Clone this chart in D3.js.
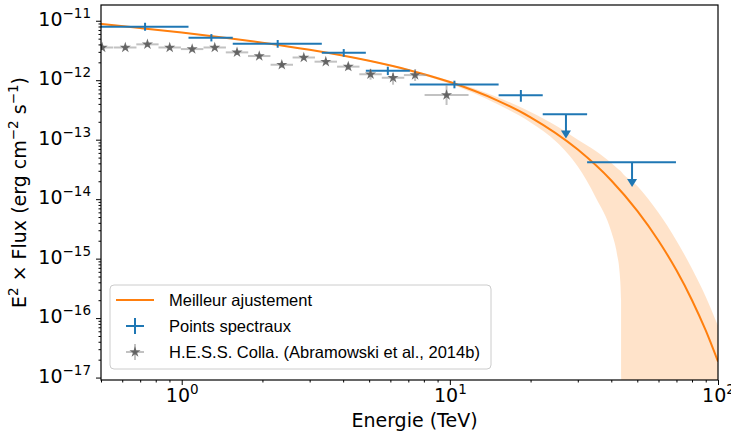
<!DOCTYPE html>
<html>
<head>
<meta charset="utf-8">
<script src="https://cdn.jsdelivr.net/npm/d3@7/dist/d3.min.js"></script>
<style>
  body { margin: 0; background: #fff; }
  text { fill: #000; }
</style>
</head>
<body>
<svg id="chart" width="731" height="432"></svg>
<script>
// ----------------------------------------
//  Data
// ----------------------------------------

// best fit curve
var fitE = [0.5, 0.7, 1, 1.5, 2, 3, 5, 7, 10, 15, 20, 30, 40, 50, 60, 70, 80, 90, 100];
var fitF = [8.87e-12, 7.55e-12, 6.32e-12, 5.07e-12, 4.28e-12, 3.25e-12, 2.12e-12, 1.49e-12,
            9.31e-13, 4.59e-13, 2.38e-13, 6.82e-14, 2.06e-14, 6.35e-15, 2.0e-15, 6.35e-16,
            2.0e-16, 6.2e-17, 1.86e-17];

// error band of the fit
var bandE  = [0.5, 1, 2, 5, 7, 10, 15, 20, 25, 30, 35, 40, 42, 43, 43.5, 43.6, 50, 60, 70, 80, 90, 100];
var bandLo = [8.71e-12, 6.21e-12, 4.20e-12, 2.07e-12, 1.43e-12, 8.71e-13, 3.98e-13, 1.95e-13,
              9.12e-14, 3.55e-14, 1.07e-14, 2.82e-15, 1.20e-15, 5.62e-16, 2.0e-16, 1e-30,
              1e-30, 1e-30, 1e-30, 1e-30, 1e-30, 1e-30];
var bandHi = [9.04e-12, 6.44e-12, 4.36e-12, 2.18e-12, 1.54e-12, 9.77e-13, 5.21e-13, 2.92e-13,
              1.70e-13, 1.00e-13, 6.46e-14, 4.07e-14, 3.34e-14, 3.05e-14, 2.92e-14, 2.88e-14,
              1.66e-14, 5.89e-15, 2.0e-15, 6.76e-16, 2.29e-16, 7.4e-17];

// spectral points
var ptE   = [0.73, 1.29, 2.28, 4.02, 5.87, 10.4, 18.4];
var ptElo = [0.5, 1.06, 1.55, 3.33, 4.86, 7.09, 15.2];
var ptEhi = [1.06, 1.55, 3.33, 4.86, 7.09, 15.2, 22.2];
var ptF   = [7.93e-12, 5.18e-12, 4.10e-12, 2.89e-12, 1.44e-12, 8.47e-13, 5.57e-13];
var ptFlo = [6.79e-12, 4.49e-12, 3.52e-12, 2.48e-12, 1.22e-12, 7.31e-13, 4.35e-13];
var ptFhi = [9.25e-12, 5.97e-12, 4.74e-12, 3.34e-12, 1.69e-12, 9.82e-13, 6.84e-13];

// upper limits
var ulE   = [27.1, 47.8];
var ulElo = [22.2, 32.5];
var ulEhi = [32.5, 69.7];
var ulF   = [2.67e-13, 4.17e-14];
var ulTo  = [1.05e-13, 1.60e-14];

// H.E.S.S. points
var hessE   = [0.505, 0.616, 0.745, 0.902, 1.094, 1.328, 1.608, 1.946, 2.362, 2.853, 3.446, 4.18, 5.06, 6.14, 7.42, 9.72];
var hessElo = [0.459, 0.559, 0.677, 0.819, 0.993, 1.206, 1.460, 1.767, 2.145, 2.591, 3.129, 3.796, 4.595, 5.575, 6.738, 8.05];
var hessEhi = [0.556, 0.678, 0.820, 0.993, 1.204, 1.462, 1.770, 2.142, 2.600, 3.141, 3.794, 4.602, 5.571, 6.760, 8.169, 11.74];
var hessF   = [3.55e-12, 3.55e-12, 4.01e-12, 3.55e-12, 3.34e-12, 3.55e-12, 2.94e-12, 2.55e-12,
               1.82e-12, 2.41e-12, 2.05e-12, 1.69e-12, 1.26e-12, 1.10e-12, 1.22e-12, 5.64e-13];
var hessFlo = [3.22e-12, 3.22e-12, 3.64e-12, 3.22e-12, 3.03e-12, 3.22e-12, 2.67e-12, 2.32e-12,
               1.62e-12, 2.19e-12, 1.86e-12, 1.49e-12, 1.02e-12, 0.84e-12, 0.97e-12, 3.83e-13];
var hessFhi = [3.91e-12, 3.91e-12, 4.42e-12, 3.91e-12, 3.68e-12, 3.91e-12, 3.24e-12, 2.81e-12,
               2.04e-12, 2.65e-12, 2.26e-12, 1.92e-12, 1.55e-12, 1.33e-12, 1.54e-12, 8.31e-13];

// ticks
var xTickExp = [0, 1, 2];
var yTickExp = [-17, -16, -15, -14, -13, -12, -11];

var legendLabels = ["Meilleur ajustement", "Points spectraux", "H.E.S.S. Colla. (Abramowski et al., 2014b)"];

// ----------------------------------------
//  Sizing
// ----------------------------------------
var plotL = 101, plotR = 718, plotT = 5, plotB = 380;

var svg = d3.select('#chart');

var x = d3.scaleLog().domain([0.5, 100]).range([plotL, plotR]);
var y = d3.scaleLog().domain([9.1e-18, 1.84e-11]).range([plotB, plotT]);

var blue = '#1f77b4', orange = '#ff7f0e';

svg.append('clipPath').attr('id', 'plot')
  .append('rect').attr('x', plotL).attr('y', plotT)
  .attr('width', plotR - plotL).attr('height', plotB - plotT);

var plot = svg.append('g').attr('clip-path', 'url(#plot)');

function yc(v) { return Math.min(y(Math.max(v, 1e-25)), plotB + 50); }

// band
var band = bandE.map(function(e, i) { return [e, bandLo[i], bandHi[i]]; });
plot.append('path')
  .datum(band)
  .attr('fill', orange).attr('fill-opacity', 0.22)
  .attr('d', d3.area()
    .x(function(d) { return x(d[0]); })
    .y0(function(d) { return yc(d[1]); })
    .y1(function(d) { return yc(d[2]); })
    .curve(d3.curveMonotoneX));

// best fit
plot.append('path')
  .datum(fitE.map(function(e, i) { return [e, fitF[i]]; }))
  .attr('fill', 'none').attr('stroke', orange).attr('stroke-width', 2)
  .attr('d', d3.line()
    .x(function(d) { return x(d[0]); })
    .y(function(d) { return y(d[1]); })
    .curve(d3.curveMonotoneX));

// spectral points
var pts = plot.append('g').attr('stroke', blue).attr('stroke-width', 2);
ptE.forEach(function(e, i) {
  pts.append('line').attr('x1', x(ptElo[i])).attr('x2', x(ptEhi[i]))
    .attr('y1', y(ptF[i])).attr('y2', y(ptF[i]));
  pts.append('line').attr('x1', x(e)).attr('x2', x(e))
    .attr('y1', y(ptFlo[i])).attr('y2', y(ptFhi[i]));
});
ulE.forEach(function(e, i) {
  var cx = x(e), y0 = y(ulF[i]), y1 = y(ulTo[i]);
  pts.append('line').attr('x1', x(ulElo[i])).attr('x2', x(ulEhi[i]))
    .attr('y1', y0).attr('y2', y0);
  pts.append('line').attr('x1', cx).attr('x2', cx).attr('y1', y0).attr('y2', y1 - 6);
  pts.append('path').attr('fill', blue).attr('stroke', 'none')
    .attr('d', 'M' + (cx - 5) + ',' + (y1 - 8) + 'L' + (cx + 5) + ',' + (y1 - 8) + 'L' + cx + ',' + y1 + 'Z');
});

// HESS points
var hess = plot.append('g');
hessE.forEach(function(e, i) {
  hess.append('line').attr('x1', x(hessElo[i])).attr('x2', x(hessEhi[i]))
    .attr('y1', y(hessF[i])).attr('y2', y(hessF[i]))
    .attr('stroke', '#999').attr('stroke-opacity', 0.6).attr('stroke-width', 2);
  hess.append('line').attr('x1', x(e)).attr('x2', x(e))
    .attr('y1', y(hessFlo[i])).attr('y2', y(hessFhi[i]))
    .attr('stroke', '#999').attr('stroke-opacity', 0.6).attr('stroke-width', 2);
});
hess.selectAll('path.star').data(hessE).enter().append('path')
  .attr('class', 'star')
  .attr('transform', function(d, i) { return 'translate(' + x(d) + ',' + y(hessF[i]) + ')'; })
  .attr('d', d3.symbol().type(d3.symbolStar).size(38))
  .attr('fill', '#555').attr('fill-opacity', 0.85);

// ----------------------------------------
//  Axes
// ----------------------------------------
function sup(sel, exp, big, small) {
  sel.text(null);
  sel.append('tspan').attr('font-size', big).text('10');
  sel.append('tspan').attr('font-size', small).attr('dy', -8)
    .text(exp < 0 ? '\u2212' + (-exp) : String(exp));
}

var font = 'DejaVu Sans, sans-serif';

var xMinor = x.ticks().filter(function(v) { return Math.abs(Math.log10(v) - Math.round(Math.log10(v))) > 1e-6; });
var yMinor = y.ticks().filter(function(v) { return Math.abs(Math.log10(v) - Math.round(Math.log10(v))) > 1e-6; });

var gx = svg.append('g').attr('transform', 'translate(0,' + plotB + ')');
gx.call(d3.axisBottom(x).tickValues(xMinor).tickSize(2.5).tickFormat(''));
var gxMajor = gx.append('g').call(d3.axisBottom(x)
  .tickValues(xTickExp.map(function(p) { return Math.pow(10, p); }))
  .tickSize(5).tickPadding(6));
gxMajor.selectAll('.tick text').each(function(d, i) {
  sup(d3.select(this), xTickExp[i], 19, 13.5);
}).attr('font-family', font).attr('dy', '1.05em');
gx.selectAll('.domain').remove();

var gy = svg.append('g').attr('transform', 'translate(' + plotL + ',0)');
gy.call(d3.axisLeft(y).tickValues(yMinor).tickSize(2.5).tickFormat(''));
var gyMajor = gy.append('g').call(d3.axisLeft(y)
  .tickValues(yTickExp.map(function(p) { return Math.pow(10, p); }))
  .tickSize(5).tickPadding(5));
gyMajor.selectAll('.tick text').each(function(d, i) {
  sup(d3.select(this), yTickExp[i], 19, 13.5);
}).attr('font-family', font).attr('dy', '0.45em');
gy.selectAll('.domain').remove();
svg.selectAll('.tick line').attr('stroke', '#000').attr('stroke-width', 1);

// frame
svg.append('rect').attr('x', plotL).attr('y', plotT)
  .attr('width', plotR - plotL).attr('height', plotB - plotT)
  .attr('fill', 'none').attr('stroke', '#000').attr('stroke-width', 1.2);

// axis labels
svg.append('text').attr('x', (plotL + plotR) / 2 + 5).attr('y', 427)
  .attr('text-anchor', 'middle').attr('font-family', font).attr('font-size', 19)
  .text('Energie (TeV)');

var yl = svg.append('text')
  .attr('transform', 'translate(26,' + ((plotT + plotB) / 2) + ') rotate(-90)')
  .attr('text-anchor', 'middle').attr('font-family', font).attr('font-size', 19);
yl.append('tspan').text('E');
yl.append('tspan').attr('font-size', 13.5).attr('dy', -8).text('2');
yl.append('tspan').attr('dy', 8).text(' \u00d7 Flux (erg cm');
yl.append('tspan').attr('font-size', 13.5).attr('dy', -8).text('\u22122');
yl.append('tspan').attr('dy', 8).text(' s');
yl.append('tspan').attr('font-size', 13.5).attr('dy', -8).text('\u22121');
yl.append('tspan').attr('dy', 8).text(')');

// ----------------------------------------
//  Legend
// ----------------------------------------
var lg = svg.append('g');
lg.append('rect').attr('x', 110).attr('y', 285).attr('width', 381).attr('height', 84)
  .attr('rx', 4).attr('fill', '#fff').attr('fill-opacity', 0.8)
  .attr('stroke', '#ccc').attr('stroke-width', 1);

var rowY = [300, 326, 352];
lg.append('line').attr('x1', 116).attr('x2', 154).attr('y1', rowY[0]).attr('y2', rowY[0])
  .attr('stroke', orange).attr('stroke-width', 2);
lg.append('line').attr('x1', 126).attr('x2', 144).attr('y1', rowY[1]).attr('y2', rowY[1])
  .attr('stroke', blue).attr('stroke-width', 2);
lg.append('line').attr('x1', 135).attr('x2', 135).attr('y1', rowY[1] - 8).attr('y2', rowY[1] + 8)
  .attr('stroke', blue).attr('stroke-width', 2);
lg.append('line').attr('x1', 126).attr('x2', 144).attr('y1', rowY[2]).attr('y2', rowY[2])
  .attr('stroke', '#999').attr('stroke-opacity', 0.6).attr('stroke-width', 2);
lg.append('line').attr('x1', 135).attr('x2', 135).attr('y1', rowY[2] - 8).attr('y2', rowY[2] + 8)
  .attr('stroke', '#999').attr('stroke-opacity', 0.6).attr('stroke-width', 2);
lg.append('path').attr('transform', 'translate(135,' + rowY[2] + ')')
  .attr('d', d3.symbol().type(d3.symbolStar).size(38))
  .attr('fill', '#555').attr('fill-opacity', 0.85);

legendLabels.forEach(function(t, i) {
  lg.append('text').attr('x', 169).attr('y', rowY[i]).attr('dy', '0.35em')
    .attr('font-family', 'Liberation Sans, Arial, sans-serif').attr('font-size', 16.5)
    .text(t);
});
</script>
</body>
</html>
